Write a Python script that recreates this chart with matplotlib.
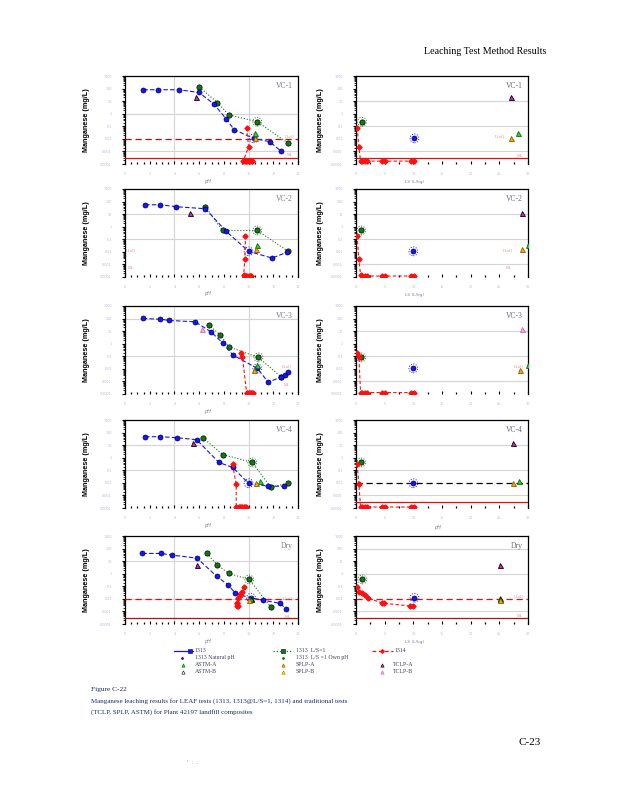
import matplotlib
matplotlib.use("Agg")
import matplotlib.pyplot as plt
from matplotlib.lines import Line2D
from matplotlib.ticker import LogLocator, NullFormatter, MultipleLocator

W, H = 618, 800

# ---------------- data ----------------
panel_names = ["VC-1", "VC-2", "VC-3", "VC-4", "Dry"]
ph_ticks = [0, 2, 4, 6, 8, 10, 12, 14]
ls_ticks = [0, 5, 10, 15, 20, 25, 30]
conc_ticks = [1e-4, 1e-3, 1e-2, 1e-1, 1, 10, 100, 1000]
conc_tick_labels = ["0.0001", "0.001", "0.01", "0.1", "1", "10", "100", "1000"]
lloq = 0.009
ml = 0.0003

# Method 1313 (pH series); natural-pH point flagged by index
vc1_1313_ph = [1.49, 2.71, 4.36, 5.99, 7.18, 8.18, 8.83, 10.4, 11.7, 12.63]
vc1_1313_mn = [81, 81, 81, 49, 6.0, 0.40, 0.054, 0.011, 0.006, 0.00105]
vc2_1313_ph = [1.63, 2.85, 4.15, 6.5, 8.2, 10.0, 11.9, 13.1]
vc2_1313_mn = [56, 56, 39, 27, 0.42, 0.011, 0.0032, 0.0093]
vc3_1313_ph = [1.44, 2.85, 3.6, 5.69, 6.99, 7.94, 8.73, 10.7, 11.6, 12.63, 12.93, 13.2]
vc3_1313_mn = [102, 89, 71, 55, 8.3, 1.05, 0.126, 0.011, 0.00085, 0.0023, 0.0032, 0.0059]
vc4_1313_ph = [1.63, 2.85, 4.2, 5.8, 7.6, 8.7, 10.0, 11.6, 12.9]
vc4_1313_mn = [47, 47, 39, 27, 0.42, 0.17, 0.0093, 0.0054, 0.0054]
dry_1313_ph = [1.41, 2.9, 3.82, 5.83, 7.42, 8.35, 8.94, 9.3, 10.2, 11.14, 12.55, 13.06]
dry_1313_mn = [41, 41, 30, 17.4, 0.62, 0.126, 0.0275, 0.020, 0.0123, 0.0079, 0.0044, 0.0015]
nat_index = [7, 5, 7, 6, 8]
nat_ls = [10.2, 10.0, 10.0, 10.0, 10.2]

# Method 1313 at L/S=1
vc1_ls1_ph = [6.02, 7.48, 8.4, 10.7, 13.17]
vc1_ls1_mn = [132, 7.6, 0.81, 0.23, 0.0048]
vc2_ls1_ph = [6.5, 7.9, 10.7, 13.2]
vc2_ls1_mn = [39, 0.5, 0.5, 0.011]
vc3_ls1_ph = [6.78, 7.72, 8.4, 10.8, 12.63]
vc3_ls1_mn = [32, 4.8, 0.56, 0.081, 0.0023]
vc4_ls1_ph = [6.3, 7.9, 10.3, 11.8, 13.2]
vc4_ls1_mn = [39, 1.8, 0.42, 0.0045, 0.0093]
dry_ls1_ph = [6.64, 7.48, 8.4, 10.05, 11.79]
dry_ls1_mn = [41, 4.8, 1.05, 0.35, 0.0023]
own_index = [3, 2, 3, 2, 3]
own_ls = [1.05, 0.9, 0.9, 0.9, 1.1]

# Method 1314 (column): pH, cumulative L/S, concentration
vc1_1314_ph = [9.84, 10.0, 9.57, 9.7, 9.8, 9.9, 10.03, 10.1, 10.24, 10.3]
vc1_1314_ls = [0.2, 0.5, 0.8, 1.1, 1.5, 1.9, 4.5, 5.0, 9.6, 10.1]
vc1_1314_mn = [0.078, 0.0023, 0.00017, 0.00017, 0.00017, 0.00017, 0.00017, 0.00017, 0.00017, 0.00017]
vc2_1314_ph = [9.75, 9.7, 9.6, 9.7, 9.8, 9.9, 10.0, 10.1, 10.2, 10.2]
vc2_1314_ls = [0.2, 0.5, 0.8, 1.1, 1.5, 1.9, 4.5, 5.0, 9.6, 10.1]
vc2_1314_mn = [0.2, 0.0026, 0.00014, 0.00012, 0.00012, 0.00012, 0.00012, 0.00012, 0.00012, 0.00012]
vc3_1314_ph = [9.38, 9.5, 9.84, 9.9, 10.0, 10.03, 10.1, 10.2, 10.3, 10.38]
vc3_1314_ls = [0.2, 0.5, 0.8, 1.1, 1.5, 1.9, 4.5, 5.0, 9.6, 10.1]
vc3_1314_mn = [0.17, 0.09, 0.00013, 0.00013, 0.00013, 0.00013, 0.00013, 0.00013, 0.00013, 0.00013]
vc4_1314_ph = [8.7, 9.0, 9.0, 9.2, 9.3, 9.4, 9.5, 9.6, 9.7, 9.8]
vc4_1314_ls = [0.2, 0.5, 0.8, 1.1, 1.5, 1.9, 4.5, 5.0, 9.6, 10.1]
vc4_1314_mn = [0.29, 0.0079, 0.00012, 0.00012, 0.00012, 0.00012, 0.00012, 0.00012, 0.00012, 0.00012]
dry_1314_ph = [9.65, 9.5, 9.4, 9.3, 9.15, 9.1, 9.08, 9.1, 9.12]
dry_1314_ls = [0.12, 0.58, 1.1, 1.58, 2.16, 4.5, 4.96, 9.47, 9.95]
dry_1314_mn = [0.081, 0.036, 0.0275, 0.020, 0.011, 0.0049, 0.0044, 0.0027, 0.0028]

# Single-batch tests: ASTM-A, ASTM-B, SPLP-A, SPLP-B, TCLP-A, TCLP-B  (None = not shown)
tri_names = ["ASTM-A", "ASTM-B", "SPLP-A", "SPLP-B", "TCLP-A", "TCLP-B"]
vc1_tri_ph = [10.5, None, 10.5, None, 5.75, None]
vc1_tri_ls = [28.2, None, 27.1, None, 27.1, None]
vc1_tri_mn = [0.028, None, 0.0117, None, 22, None]
vc2_tri_ph = [10.65, None, 10.6, None, 5.3, None]
vc2_tri_ls = [30.0, None, 29.0, None, 29.0, None]
vc2_tri_mn = [0.033, None, 0.016, None, 13, None]
vc3_tri_ph = [10.65, None, 10.4, None, None, 6.26]
vc3_tri_ls = [30.0, None, 28.6, None, None, 29.0]
vc3_tri_mn = [0.02, None, 0.008, None, None, 16]
vc4_tri_ph = [10.9, None, 10.6, None, 5.5, None]
vc4_tri_ls = [28.4, None, 27.4, None, 27.4, None]
vc4_tri_mn = [0.013, None, 0.0093, None, 16, None]
dry_tri_ph = [10.2, 10.2, 10.05, None, 5.8, None]
dry_tri_ls = [25.1, 25.1, 25.1, None, 25.1, None]
dry_tri_mn = [0.0126, 0.01, 0.0079, None, 5.0, None]

# ---------------- styling ----------------
C_BLUE = "#1414ff"
C_GREEN = "#0f7a0f"
C_RED = "#ff1010"
tri_face = ["#22dd22", "none", "#ffaa00", "#ffee00", "#e020c0", "#ffa0e0"]
tri_edge = ["#0a6a0a", "black", "#8a5a00", "#8a7a00", "black", "#d070b0"]

row_tops = [76, 189, 306, 420, 536]
ax_h = 88
left_x = (125, 298)
right_x = (356, 528)

fig = plt.figure(figsize=(W / 100, H / 100), dpi=100)
fig.patch.set_facecolor("white")


def px_axes(x0, x1, y0, y1):
    return fig.add_axes([x0 / W, 1 - y1 / H, (x1 - x0) / W, (y1 - y0) / H])


series_1313 = [(vc1_1313_ph, vc1_1313_mn), (vc2_1313_ph, vc2_1313_mn), (vc3_1313_ph, vc3_1313_mn),
               (vc4_1313_ph, vc4_1313_mn), (dry_1313_ph, dry_1313_mn)]
series_ls1 = [(vc1_ls1_ph, vc1_ls1_mn), (vc2_ls1_ph, vc2_ls1_mn), (vc3_ls1_ph, vc3_ls1_mn),
              (vc4_ls1_ph, vc4_ls1_mn), (dry_ls1_ph, dry_ls1_mn)]
series_1314 = [(vc1_1314_ph, vc1_1314_ls, vc1_1314_mn), (vc2_1314_ph, vc2_1314_ls, vc2_1314_mn),
               (vc3_1314_ph, vc3_1314_ls, vc3_1314_mn), (vc4_1314_ph, vc4_1314_ls, vc4_1314_mn),
               (dry_1314_ph, dry_1314_ls, dry_1314_mn)]
series_tri = [(vc1_tri_ph, vc1_tri_ls, vc1_tri_mn), (vc2_tri_ph, vc2_tri_ls, vc2_tri_mn),
              (vc3_tri_ph, vc3_tri_ls, vc3_tri_mn), (vc4_tri_ph, vc4_tri_ls, vc4_tri_mn),
              (dry_tri_ph, dry_tri_ls, dry_tri_mn)]

# per panel: which reference lines are drawn (left, right)
lloq_line = [("#b01010", None), (None, None), (None, None), (None, "black"), ("#e01010", "#e01010")]
ml_line = [("#e01010", "#e01010"), (None, None), (None, None), (None, "#e01010"), ("#b01010", "#b01010")]
left_grid_y = [[1, 1e-3], [10, 1e-1], [100, 1e-1], [10, 1e-1], [10, 1e-2]]
right_grid_y = [[10, 1e-1, 1e-3], [10, 1e-1, 1e-3], [10, 1e-1, 1e-3], [10, 1e-1, 1e-3], [100, 1, 1e-3]]

LBL = "#c0b4d4"


def style_axes(ax, xlim, xticks, xminor, gy, gx):
    ax.set_yscale("log")
    ax.set_ylim(1e-4, 1e3)
    ax.set_xlim(*xlim)
    ax.set_yticks(conc_ticks)
    ax.set_yticklabels(conc_tick_labels)
    ax.yaxis.set_minor_locator(LogLocator(base=10, subs=range(2, 10), numticks=20))
    ax.yaxis.set_minor_formatter(NullFormatter())
    ax.set_xticks(xticks)
    ax.set_xticklabels([str(t) for t in xticks])
    ax.xaxis.set_minor_locator(MultipleLocator(xminor))
    ax.tick_params(axis="y", which="major", direction="out", length=2.5, width=0.8,
                   labelsize=2.4, labelcolor=LBL, pad=7)
    ax.tick_params(axis="y", which="minor", direction="out", length=1.5, width=0.6)
    ax.tick_params(axis="x", which="major", direction="in", length=2, width=0.8,
                   labelsize=2.4, labelcolor=LBL, pad=6)
    ax.tick_params(axis="x", which="minor", direction="in", length=1.2, width=0.9)
    ax.spines["bottom"].set_visible(False)
    for s in ("top", "right", "left"):
        ax.spines[s].set_linewidth(0.9)
    for g in gy:
        ax.axhline(g, color="#d4d4d4", lw=0.8, zorder=0)
    for g in gx:
        ax.axvline(g, color="#d4d4d4", lw=0.8, zorder=0)


def draw_triangles(ax, xs, ys):
    for i in range(len(tri_names)):
        if xs[i] is None:
            continue
        ax.plot([xs[i]], [ys[i]], marker="^", ms=3.6, mfc=tri_face[i], mec=tri_edge[i],
                mew=0.6, ls="none", zorder=6)


for r in range(5):
    top = row_tops[r]
    bot = top + ax_h
    # ---------- left (pH) ----------
    ax = px_axes(left_x[0], left_x[1], top, bot)
    style_axes(ax, (0, 14), ph_ticks, 0.5, left_grid_y[r], [4, 10])
    ph, mn = series_1313[r]
    ax.plot(ph, mn, color=C_BLUE, lw=0.8, ls=(0, (4, 2)), marker="o", ms=3.6,
            mfc=C_BLUE, mec="#000040", mew=0.5, zorder=5)
    ni = nat_index[r]
    ax.scatter([ph[ni]], [mn[ni]], s=40, facecolors="none", edgecolors=C_BLUE,
               linestyles=":", linewidths=0.7, zorder=5)
    ph2, mn2 = series_ls1[r]
    ax.plot(ph2, mn2, color=C_GREEN, lw=0.8, ls=":", marker="o", ms=3.8,
            mfc=C_GREEN, mec="black", mew=0.5, zorder=4)
    oi = own_index[r]
    ax.scatter([ph2[oi]], [mn2[oi]], s=40, facecolors="none", edgecolors=C_GREEN,
               linestyles=":", linewidths=0.7, zorder=4)
    p14, l14, m14 = series_1314[r]
    ax.plot(p14, m14, color=C_RED, lw=0.8, ls=(0, (3, 2)), marker="D", ms=2.6,
            mfc=C_RED, mec=C_RED, zorder=6)
    tp, tl, tm = series_tri[r]
    draw_triangles(ax, tp, tm)
    if lloq_line[r][0]:
        ax.axhline(lloq, color=lloq_line[r][0], lw=0.9, ls=(0, (5, 3)), zorder=3)
    if ml_line[r][0]:
        ax.axhline(ml, color=ml_line[r][0], lw=0.9, zorder=3)
    ax.text(0.97, 0.93, panel_names[r], transform=ax.transAxes, ha="right", va="top",
            fontsize=5.5, color="#7a7a90", family="Liberation Serif")

    # ---------- right (L/S) ----------
    ax2 = px_axes(right_x[0], right_x[1], top, bot)
    style_axes(ax2, (0, 30), ls_ticks, 2.5, right_grid_y[r], [])
    ax2.plot(l14, m14, color=C_RED, lw=0.8, ls=(0, (3, 2)), marker="D", ms=2.6,
             mfc=C_RED, mec=C_RED, zorder=6)
    ax2.plot([own_ls[r]], [mn2[oi]], marker="o", ms=3.8, mfc=C_GREEN, mec="black",
             mew=0.5, ls="none", zorder=5)
    ax2.scatter([own_ls[r]], [mn2[oi]], s=40, facecolors="none", edgecolors=C_GREEN,
                linestyles=":", linewidths=0.7, zorder=5)
    ax2.plot([nat_ls[r]], [mn[ni]], marker="o", ms=3.6, mfc=C_BLUE, mec="#000040",
             mew=0.5, ls="none", zorder=5)
    ax2.scatter([nat_ls[r]], [mn[ni]], s=40, facecolors="none", edgecolors=C_BLUE,
                linestyles=":", linewidths=0.7, zorder=5)
    draw_triangles(ax2, tl, tm)
    if lloq_line[r][1]:
        ax2.axhline(lloq, color=lloq_line[r][1], lw=0.9, ls=(0, (5, 3)), zorder=3)
    if ml_line[r][1]:
        ax2.axhline(ml, color=ml_line[r][1], lw=0.9, zorder=3)
    ax2.text(0.97, 0.93, panel_names[r], transform=ax2.transAxes, ha="right", va="top",
             fontsize=5.5, color="#6a6a80", family="Liberation Serif")

# overlay axes in pixel coordinates for page text & legend
ov = fig.add_axes([0, 0, 1, 1], zorder=10)
ov.set_xlim(0, W)
ov.set_ylim(H, 0)
ov.axis("off")
ov.patch.set_alpha(0)

SERIF = "Liberation Serif"
ov.text(546, 51, "Leaching Test Method Results", ha="right", va="center", fontsize=7.2,
        family=SERIF, color="black")

# y labels and x labels
xlab_right = ["LS (L/kg)", "LS (L/kg)", "", "pH", "LS (L/kg)"]
for r in range(5):
    top = row_tops[r]
    cy = top + ax_h / 2
    ov.text(87, cy, "Manganese (mg/L)", rotation=90, ha="center", va="center",
            fontsize=5.2, fontweight="bold", family="Liberation Sans")
    ov.text(320, cy, "Manganese (mg/L)", rotation=90, ha="center", va="center",
            fontsize=5.2, fontweight="bold", family="Liberation Sans")
    ov.text(207, top + ax_h + 17, "pH", ha="center", va="center", fontsize=3.6,
            color="#8080a0", style="italic")
    if xlab_right[r] == "pH":
        ov.text(437, top + ax_h + 19, "pH", ha="center", va="center", fontsize=3.6,
                color="#8080a0", style="italic")
    elif xlab_right[r]:
        ov.text(415, top + ax_h + 18, xlab_right[r], ha="center", va="center", fontsize=3.2,
                color="#8080a0")

# LLoQ / ML labels (pixel positions)
PINK = "#e08a8a"
lab_pos = [
    [(290, 136, "LLoQ"), (290, 155, "ML"), (500, 136, "LLoQ"), (520, 156, "ML")],
    [(131, 250, "LLoQ"), (131, 268, "ML"), (508, 250, "LLoQ"), (509, 268, "ML")],
    [(287, 366, "LLoQ"), (287, 385, "ML"), (519, 367, "LLoQ")],
    [],
    [(288, 598, "LLoQ"), (288, 617, "ML"), (519, 597, "LLoQ"), (520, 616, "ML")],
]
for r in range(5):
    for (x, y, t) in lab_pos[r]:
        ov.text(x, y, t, ha="center", va="center", fontsize=3.0, color=PINK, family=SERIF)

# legend
LEGC = "#404060"
leg_rows = [651, 657.5, 664.7, 671.7]
ov.add_line(Line2D([174, 193], [leg_rows[0]] * 2, color=C_BLUE, lw=0.9))
ov.plot([190], [leg_rows[0]], marker="s", ms=2.2, color=C_BLUE, mec="#000040", mew=0.4)
ov.text(195, leg_rows[0], "1313", fontsize=4.2, family=SERIF, color=LEGC, va="center")
ov.add_line(Line2D([273, 293], [leg_rows[0]] * 2, color=C_GREEN, lw=0.9, ls=":"))
ov.plot([283], [leg_rows[0]], marker="s", ms=2.2, color=C_GREEN, mec="black", mew=0.4)
ov.text(296, leg_rows[0], "1313  L/S=1", fontsize=4.2, family=SERIF, color=LEGC, va="center")
ov.add_line(Line2D([372, 393], [leg_rows[0]] * 2, color=C_RED, lw=0.9, ls=(0, (3, 2))))
ov.plot([382], [leg_rows[0]], marker="D", ms=1.8, color=C_RED)
ov.text(395, leg_rows[0], "1314", fontsize=4.2, family=SERIF, color=LEGC, va="center")
ov.plot([181.7], [leg_rows[1]], marker=".", ms=2, color=C_BLUE, ls="none")
ov.text(195, leg_rows[1], "1313 Natural pH", fontsize=4.2, family=SERIF, color=LEGC, va="center")
ov.plot([282.7], [leg_rows[1]], marker=".", ms=2, color=C_GREEN, ls="none")
ov.text(296, leg_rows[1], "1313  L/S =1 Own pH", fontsize=4.2, family=SERIF, color=LEGC, va="center")
tri_leg_x = [182.7, 182.7, 282.7, 282.7, 381.7, 381.7]
tri_leg_tx = [195, 195, 296, 296, 393, 393]
tri_leg_row = [2, 3, 2, 3, 2, 3]
for i, name in enumerate(tri_names):
    yy = leg_rows[tri_leg_row[i]]
    ov.plot([tri_leg_x[i]], [yy], marker="^", ms=2.4, mfc=tri_face[i], mec=tri_edge[i],
            mew=0.4, ls="none")
    ov.text(tri_leg_tx[i], yy, name, fontsize=4.2, family=SERIF, color=LEGC, va="center")

# caption
CAP = "#1a2a6a"
ov.text(91, 690, "Figure C-22", fontsize=5.3, family=SERIF, color=CAP, va="center")
ov.text(91, 700.7, "Manganese leaching results for LEAF tests (1313, 1313@L/S=1, 1314) and traditional tests",
        fontsize=5.0, family=SERIF, color=CAP, va="center")
ov.text(91, 711.7, "(TCLP, SPLP, ASTM) for Plant 42197 landfill composites",
        fontsize=5.0, family=SERIF, color=CAP, va="center")
ov.text(541, 742.5, "C-23", ha="right", va="center", fontsize=8, family=SERIF, color="black")
ov.text(192, 762, "'  :  .", ha="center", va="center", fontsize=3.5, color="#909090")

fig.savefig("out.png", dpi=100, facecolor="white")
